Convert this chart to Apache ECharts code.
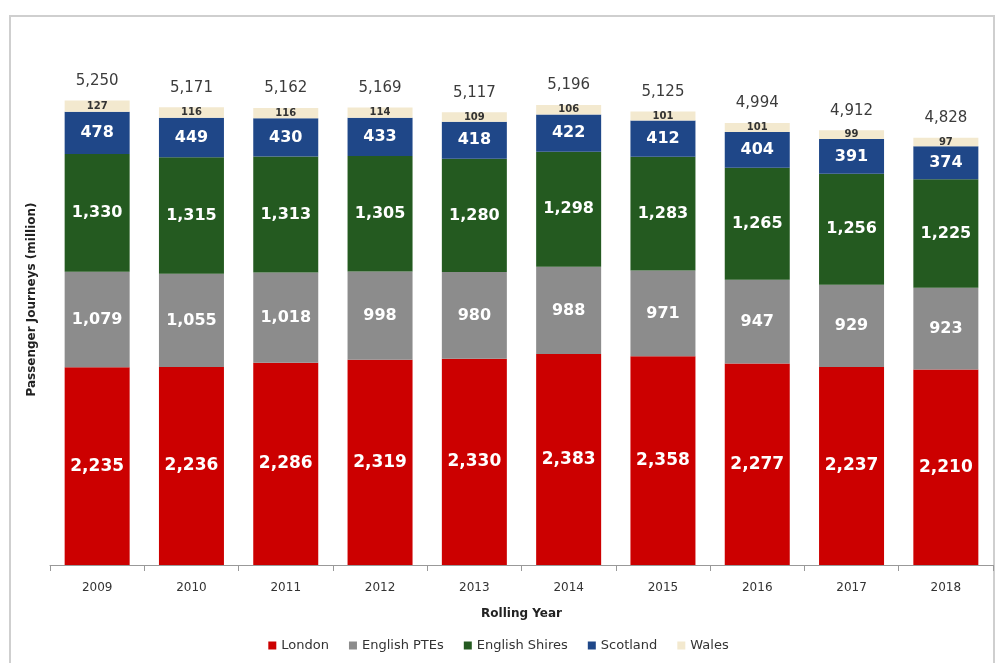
<!DOCTYPE html>
<html>
<head>
<meta charset="utf-8">
<script src="https://cdn.jsdelivr.net/npm/echarts@6/dist/echarts.min.js"></script>
<style>
html, body { margin: 0; padding: 0; background: #fff; }
#frame {
  position: absolute;
  left: 9px;
  top: 15px;
  width: 986px;
  height: 660px;
  border: 2px solid #cfcfcf;
  box-sizing: border-box;
}
#bus-chart { position: absolute; left: 0; top: 0; width: 997px; height: 663px; }
</style>
</head>
<body>
<div id="frame"></div>
<div id="bus-chart"></div>
<script>
// data
const years = ['2009', '2010', '2011', '2012', '2013', '2014', '2015', '2016', '2017', '2018']
const london = [2235, 2236, 2286, 2319, 2330, 2383, 2358, 2277, 2237, 2210]
const englishPtes = [1079, 1055, 1018, 998, 980, 988, 971, 947, 929, 923]
const englishShires = [1330, 1315, 1313, 1305, 1280, 1298, 1283, 1265, 1256, 1225]
const scotland = [478, 449, 430, 433, 418, 422, 412, 404, 391, 374]
const wales = [127, 116, 116, 114, 109, 106, 101, 101, 99, 97]
const totals = [5250, 5171, 5162, 5169, 5117, 5196, 5125, 4994, 4912, 4828]

const fontFamily = 'DejaVu Sans'
const fmt = (v) => Number(v).toLocaleString('en-GB')

function segment (name, data, color, labelColor, labelSize) {
  return {
    name: name,
    type: 'bar',
    stack: 'total',
    barWidth: 65,
    data: data,
    itemStyle: { color: color },
    label: {
      show: true,
      position: 'inside',
      color: labelColor,
      fontFamily: fontFamily,
      fontSize: labelSize,
      fontWeight: 'bold',
      formatter: (p) => fmt(p.value)
    }
  }
}

const myChart = echarts.init(document.getElementById('bus-chart'))
const option = {
  animation: false,
  textStyle: { fontFamily: fontFamily },
  grid: {
    left: 50,
    right: 4,
    top: 34,
    bottom: 98
  },
  legend: {
    bottom: 6,
    left: 'center',
    itemWidth: 8,
    itemHeight: 8,
    itemGap: 20,
    icon: 'rect',
    textStyle: { color: '#333', fontSize: 13, fontFamily: fontFamily },
    data: ['London', 'English PTEs', 'English Shires', 'Scotland', 'Wales']
  },
  xAxis: {
    type: 'category',
    data: years,
    name: 'Rolling Year',
    nameLocation: 'middle',
    nameGap: 43,
    nameTextStyle: { color: '#222', fontSize: 12, fontWeight: 'bold' },
    axisLine: { lineStyle: { color: '#999' } },
    axisTick: { show: true, length: 6, lineStyle: { color: '#999' } },
    axisLabel: { color: '#333', fontSize: 12, margin: 17 }
  },
  yAxis: {
    type: 'value',
    min: 0,
    max: 6000,
    name: 'Passenger Journeys (million)',
    nameLocation: 'middle',
    nameGap: 12,
    nameTextStyle: { color: '#222', fontSize: 12, fontWeight: 'bold' },
    axisLine: { show: false },
    axisTick: { show: false },
    axisLabel: { show: false },
    splitLine: { show: false }
  },
  series: [
    segment('London', london, '#cc0000', '#fff', 17),
    segment('English PTEs', englishPtes, '#8c8c8c', '#fff', 16),
    segment('English Shires', englishShires, '#245a20', '#fff', 16),
    segment('Scotland', scotland, '#1f4788', '#fff', 16),
    segment('Wales', wales, '#f3e9cf', '#333', 10),
    {
      name: 'Total',
      type: 'bar',
      stack: 'total',
      barWidth: 65,
      data: totals.map(() => 0),
      itemStyle: { color: 'transparent' },
      label: {
        show: true,
        position: 'top',
        distance: 12,
        color: '#3b3b3b',
        fontFamily: fontFamily,
        fontSize: 15,
        formatter: (p) => fmt(totals[p.dataIndex])
      }
    }
  ]
}
myChart.setOption(option)
window.addEventListener('resize', () => myChart.resize())
</script>
</body>
</html>
